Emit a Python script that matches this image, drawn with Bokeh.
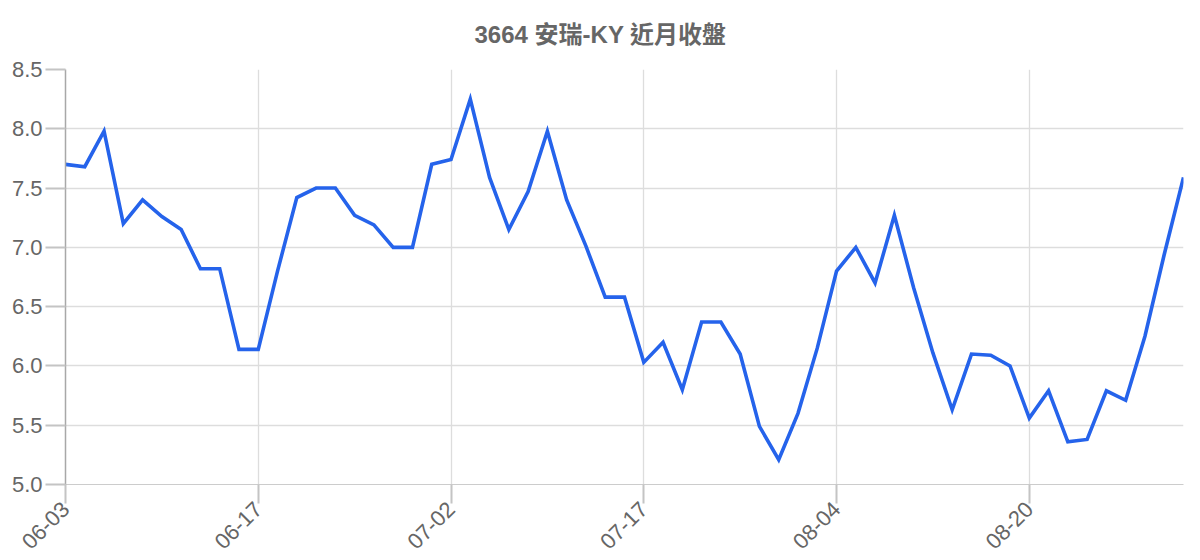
import math
from bokeh.plotting import figure
from bokeh.models import Range1d, FixedTicker
from bokeh.embed import file_html
from bokeh.resources import INLINE

title_text = "3664 安瑞-KY 近月收盤"

dates = [
    "06-03", "06-04", "06-05", "06-06", "06-09", "06-10", "06-11", "06-12", "06-13", "06-16",
    "06-17", "06-18", "06-19", "06-20", "06-23", "06-24", "06-25", "06-26", "06-27", "06-30",
    "07-02", "07-03", "07-04", "07-07", "07-08", "07-09", "07-10", "07-11", "07-14", "07-15",
    "07-17", "07-18", "07-21", "07-22", "07-23", "07-24", "07-25", "07-28", "07-29", "07-31",
    "08-04", "08-05", "08-06", "08-07", "08-08", "08-11", "08-12", "08-13", "08-14", "08-15",
    "08-20", "08-21", "08-22", "08-25", "08-26", "08-27", "08-28", "08-29", "09-01",
]

close = [
    7.70, 7.68, 7.98, 7.20, 7.40, 7.26, 7.15, 6.82, 6.82, 6.14,
    6.14, 6.80, 7.42, 7.50, 7.50, 7.27, 7.19, 7.00, 7.00, 7.70,
    7.74, 8.25, 7.59, 7.15, 7.47, 7.98, 7.40, 7.01, 6.58, 6.58,
    6.03, 6.20, 5.80, 6.37, 6.37, 6.10, 5.49, 5.21, 5.60, 6.15,
    6.80, 7.00, 6.70, 7.27, 6.66, 6.11, 5.63, 6.10, 6.09, 6.00,
    5.56, 5.79, 5.36, 5.38, 5.79, 5.71, 6.25, 6.94, 7.59,
]

x_tick_idx = [0, 10, 20, 30, 40, 50]
y_ticks = [5.0, 5.5, 6.0, 6.5, 7.0, 7.5, 8.0, 8.5]

xs = list(range(len(dates)))

p = figure(
    frame_width=1118, frame_height=415,
    output_backend="svg", toolbar_location=None,
    x_range=Range1d(0, len(dates) - 1), y_range=Range1d(5.0, 8.5),
    min_border_left=65, min_border_top=69, min_border_right=9, min_border_bottom=0,
    title=title_text,
)
p.outline_line_color = None
p.background_fill_color = "white"
p.border_fill_color = "white"

p.title.text_font = "'Liberation Sans', 'Noto Sans CJK TC', sans-serif"
p.title.text_font_size = "24px"
p.title.text_font_style = "bold"
p.title.text_color = "#666666"
p.title.align = "left"
p.title.vertical_align = "top"
p.title.offset = 409
p.title.standoff = 40

grid_color = "#dddddd"
tick_color = "#c4c4c4"
label_font = "'Liberation Sans', sans-serif"

# x axis
p.xaxis.ticker = FixedTicker(ticks=x_tick_idx)
p.xaxis.major_label_overrides = {i: dates[i] for i in x_tick_idx}
p.xaxis.major_label_orientation = math.pi / 4
p.xaxis.major_label_text_font = label_font
p.xaxis.major_label_text_font_size = "22px"
p.xaxis.major_label_text_color = "#666666"
p.xaxis.major_label_standoff = 2
p.xaxis.major_tick_out = 19
p.xaxis.major_tick_in = 0
p.xaxis.major_tick_line_color = tick_color
p.xaxis.major_tick_line_width = 2
p.xaxis.minor_tick_line_color = None
p.xaxis.axis_line_color = "#cccccc"

# y axis
p.yaxis.ticker = FixedTicker(ticks=y_ticks)
p.yaxis.major_label_overrides = {v: f"{v:.1f}" for v in y_ticks}
p.yaxis.major_label_text_font = label_font
p.yaxis.major_label_text_font_size = "22px"
p.yaxis.major_label_text_color = "#666666"
p.yaxis.major_label_standoff = 3
p.yaxis.major_tick_out = 20
p.yaxis.major_tick_in = 0
p.yaxis.major_tick_line_color = tick_color
p.yaxis.major_tick_line_width = 2
p.yaxis.minor_tick_line_color = None
p.yaxis.axis_line_color = "#a8a8a8"
p.yaxis.axis_line_width = 1.5

p.xgrid.ticker = FixedTicker(ticks=x_tick_idx)
p.ygrid.ticker = FixedTicker(ticks=y_ticks)
p.xgrid.grid_line_color = grid_color
p.ygrid.grid_line_color = grid_color
p.xgrid.grid_line_width = 1.3
p.ygrid.grid_line_width = 1.3

p.line(xs, close, line_color="#2563eb", line_width=3.6, line_join="miter")

open("out.html", "w").write(file_html(p, INLINE))
